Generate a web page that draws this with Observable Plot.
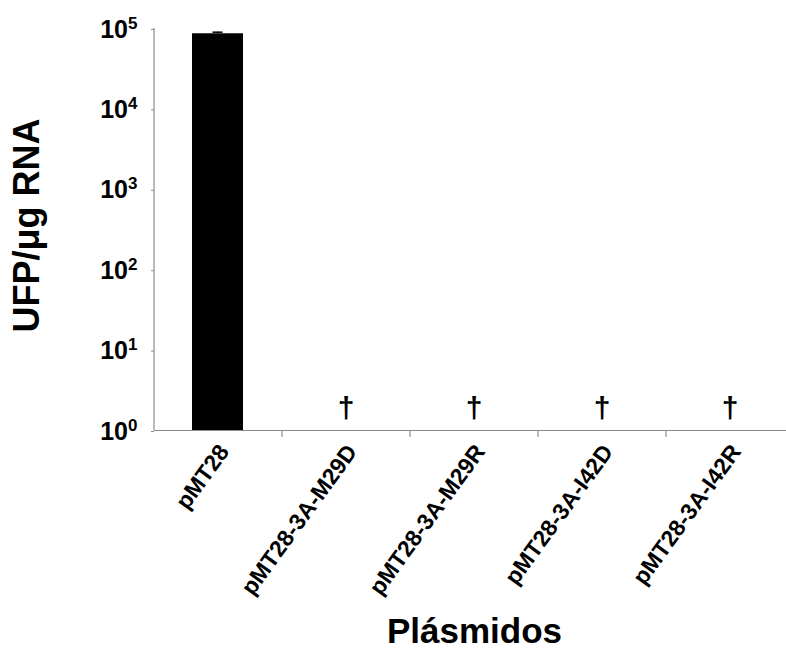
<!DOCTYPE html>
<html>
<head>
<meta charset="utf-8">
<script src="https://cdn.jsdelivr.net/npm/d3@7"></script>
<script src="https://cdn.jsdelivr.net/npm/@observablehq/plot@0.6"></script>
<style>
  html, body { margin: 0; padding: 0; background: #fff; }
</style>
</head>
<body>
<div id="chart"></div>
<script>
// ---- data ----
const plasmids = ["pMT28", "pMT28-3A-M29D", "pMT28-3A-M29R", "pMT28-3A-I42D", "pMT28-3A-I42R"];
const ufpValues = [86000, null, null, null, null];
const ufpErrors = [4000, null, null, null, null];
const markers = ["", "†", "†", "†", "†"];
const yTicks = [1, 10, 100, 1000, 10000, 100000];
const yLabel = "UFP/μg RNA";
const xLabel = "Plásmidos";

const rows = plasmids.map((p, i) => ({plasmid: p, value: ufpValues[i], err: ufpErrors[i], mark: markers[i]}));
const measured = rows.filter(d => d.value != null);
const notDetected = rows.filter(d => d.mark);

// ---- layout ----
const W = 786, H = 650;
const mL = 154, mR = -8, mT = 28, mB = 220;
const step = (W - mL - mR) / plasmids.length;
const axisGray = "#8c8c8c";

const plot = Plot.plot({
  width: W,
  height: H,
  marginLeft: mL,
  marginRight: mR,
  marginTop: mT,
  marginBottom: mB,
  style: {fontFamily: "'Liberation Sans', Arial, sans-serif", fontWeight: "bold", background: "white", color: "black"},
  x: {type: "band", domain: plasmids, paddingInner: 0.6, paddingOuter: 0.3},
  y: {type: "log", domain: [1, 100000]},
  marks: [
    // bars
    Plot.barY(measured, {x: "plasmid", y1: () => 1, y2: "value", fill: "black"}),
    // error bars
    Plot.ruleX(measured, {x: "plasmid", y1: "value", y2: d => d.value + d.err, stroke: "black", strokeWidth: 1.5}),
    Plot.tickY(measured, {x: "plasmid", y: d => d.value + d.err, stroke: "black", strokeWidth: 1.5, insetLeft: 20.5, insetRight: 20.5}),
    // not-detected markers
    Plot.text(notDetected, {x: "plasmid", y: () => 1, text: "mark", fontSize: 30, fontWeight: "bold", lineAnchor: "middle", dy: -22}),
    // axis lines
    Plot.ruleY([1], {stroke: axisGray, strokeWidth: 1.2}),
    Plot.ruleX([plasmids[0]], {x: d => d, dx: -step / 2, stroke: axisGray, strokeWidth: 1.2}),
    Plot.ruleX(plasmids.slice(1), {x: d => d, dx: -step / 2, y1: () => 1, y2: () => 1, insetBottom: -7, stroke: axisGray, strokeWidth: 1.2}),
    // axes
    Plot.axisY({ticks: yTicks, tickFormat: d => "10^" + Math.round(Math.log10(d)), tickSize: 3, tickPadding: 14, dy: 1, stroke: axisGray, fontSize: 25, fontWeight: "bold", label: null}),
    Plot.axisX({tickSize: 0, tickRotate: -54, tickPadding: 17, dx: 6, fontSize: 23, fontWeight: "bold", label: null}),
    // axis titles
    Plot.text([yLabel], {frameAnchor: "left", text: d => d, rotate: -90, textAnchor: "middle", dx: -127, dy: -4, fontSize: 36, fontWeight: "bold", lineAnchor: "middle"}),
    Plot.text([xLabel], {frameAnchor: "bottom", text: d => d, textAnchor: "middle", dy: 201, fontSize: 35, fontWeight: "bold", lineAnchor: "middle"})
  ]
});

// superscript exponents on y tick labels
d3.select(plot).selectAll('g[aria-label="y-axis tick label"] text').each(function() {
  const parts = this.textContent.split("^");
  if (parts.length === 2) {
    const sel = d3.select(this);
    sel.text(parts[0]);
    sel.append("tspan").attr("font-size", 17).attr("dy", -9).text(parts[1]);
  }
});

document.getElementById("chart").appendChild(plot);
</script>
</body>
</html>
